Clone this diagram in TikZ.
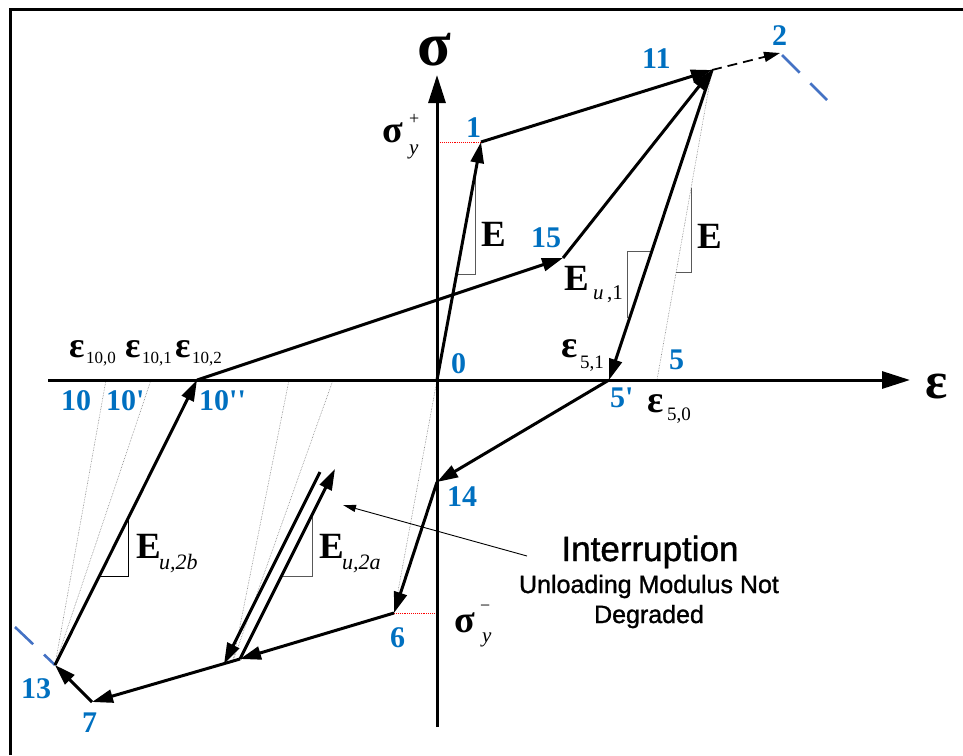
\documentclass[tikz,border=0pt]{standalone}
\usepackage{fontspec}
\setmainfont{Liberation Serif}[Ligatures=TeXOff]
\newfontfamily\sansf{Liberation Sans}
\newfontfamily\sansb{Liberation Sans}[FakeBold=1.2]
\usetikzlibrary{arrows.meta}
\definecolor{nblue}{RGB}{0,112,192}
\definecolor{dblue}{RGB}{68,114,196}
\newcommand\fs[1]{\fontsize{#1}{#1}\selectfont}
\begin{document}
\begin{tikzpicture}[x=1pt,y=-1pt,
 main/.style={line width=3pt,-{Triangle[length=21pt,width=13pt]}},
 axis/.style={line width=3pt,-{Triangle[length=28pt,width=17pt]}},
 guide/.style={gray,densely dotted,line width=0.6pt},
 tri/.style={black!65,line width=1pt},
 ref/.style={red,densely dotted,line width=0.9pt},
 bdash/.style={dblue,line width=2.6pt,dash pattern=on 25pt off 15pt},
 num/.style={text=nblue,font=\fs{30}\bfseries,inner sep=0pt,anchor=base west},
 lbl/.style={inner sep=0pt,anchor=base west},
]
\useasboundingbox (0,0) rectangle (963,755);
\draw[line width=3pt] (10,755) -- (10,9) -- (963,9);

% points
\coordinate (O) at (437,380);
\coordinate (P1) at (481,142);
\coordinate (P11) at (712,70);
\coordinate (P2) at (780,53);
\coordinate (P15) at (563,258);
\coordinate (P5p) at (609,380);
\coordinate (P5) at (657,380);
\coordinate (P14) at (437,482);
\coordinate (P6) at (394,613);
\coordinate (A) at (240,659);
\coordinate (B) at (224,664);
\coordinate (U) at (335,469);
\coordinate (D) at (320,472);
\coordinate (Pa) at (233,661);
\coordinate (P7) at (92,702);
\coordinate (P13) at (55,665);
\coordinate (P10) at (106,380);
\coordinate (P10p) at (151,380);
\coordinate (P10pp) at (197,380);
\coordinate (Pq) at (289,380);
\coordinate (Pr) at (333,380);
\coordinate (sb) at (437,727);
\coordinate (st) at (437,75);
\coordinate (el) at (48,380);
\coordinate (er) at (910,380);
\coordinate (ry1) at (437,142);
\coordinate (ry6) at (437,613);

% guides
\draw[guide] (P13) -- (P10);
\draw[guide] (P13) -- (P10p);
\draw[guide] (Pa) -- (Pq);
\draw[guide] (Pa) -- (Pr);
\draw[guide] (P6) -- (O);
\draw[guide] (P5) -- (P11);
\draw[ref] (P1) -- (ry1);
\draw[ref] (P6) -- (ry6);

% slope triangles
\draw[tri] (457,274) -- (475,274) -- (475,175);
\draw[tri] (676,272) -- (691,272) -- (691,188);
\draw[tri] (652,251) -- (627,251) -- (627,318);
\draw[tri,black] (99,576) -- (128,576) -- (128,518);
\draw[tri] (282,576) -- (312,576) -- (312,516);

% axes
\draw[axis] (sb) -- (st);
\draw[axis] (el) -- (er);

% path
\draw[main] (O) -- (P1);
\draw[main] (P1) -- (P11);
\draw[line width=1.8pt,dash pattern=on 10pt off 6pt,-{Triangle[length=16pt,width=10pt]}] (P11) -- (P2);
\draw[bdash] (782,55) -- (827,100);
\draw[main] (P11) -- (P5p);
\draw[main] (P5p) -- (P14);
\draw[main] (P14) -- (P6);
\draw[main] (P6) -- (A);
\draw[main] (A) -- (U);
\draw[main] (D) -- (B);
\draw[main] (A) -- (P7);
\draw[main] (P7) -- (P13);
\draw[bdash] (15,627) -- (55,665);
\draw[main] (P13) -- (P10pp);
\draw[main] (P10pp) -- (P15);
\draw[main] (P15) -- (P11);

% blue numbers
\node[num] (n1) at (466,137) {1};
\node[num] (n11) at (642,68) {11};
\node[num] (n2) at (772,45) {2};
\node[num] (n15) at (531,247) {15};
\node[num] (n0) at (451,373) {0};
\node[num] (n5) at (669,369) {5};
\node[num] (n5p) at (610,407) {5'};
\node[num] (n10) at (61,410) {10};
\node[num] (n10p) at (106,410) {10'};
\node[num] (n10pp) at (199,410) {10''};
\node[num] (n14) at (447,506) {14};
\node[num] (n6) at (390,647) {6};
\node[num] (n13) at (21,698) {13};
\node[num] (n7) at (82,732) {7};

% axis labels
\node[lbl] (sig) at (417,65) {\fs{62}\bfseries σ};
\node[lbl] (eps) at (925,398) {\fs{52}\bfseries ε};

% sigma_y
\node[lbl] (sy1) at (382,142) {\fs{38}\bfseries σ};
\node[lbl] (sy1p) at (409,124) {\fs{18}+};
\node[lbl] (sy1y) at (409,154) {\fs{21}\itshape y};
\node[lbl] (sy2) at (454,632) {\fs{38}\bfseries σ};
\node[lbl] (sy2m) at (480,611) {\fs{18}−};
\node[lbl] (sy2y) at (482,642) {\fs{21}\itshape y};

% E labels
\node[lbl] (E1) at (481,246) {\fs{37}\bfseries E};
\node[lbl] (E2) at (697,248) {\fs{37}\bfseries E};
\node[lbl] (Eu1) at (564,290) {\fs{37}\bfseries E};
\node[lbl] (Eu1s) at (593,299) {\fs{21}\itshape u\upshape\,,1};
\node[lbl] (Eu2b) at (136,558) {\fs{37}\bfseries E};
\node[lbl] (Eu2bs) at (159,569) {\fs{22}\itshape u,2b};
\node[lbl] (Eu2a) at (319,558) {\fs{37}\bfseries E};
\node[lbl] (Eu2as) at (342,569) {\fs{22}\itshape u,2a};

% epsilon labels
\node[lbl] (e100) at (69,357) {\fs{36}\bfseries ε};
\node[lbl] (e100s) at (86,363) {\fs{17}10,0};
\node[lbl] (e101) at (125,357) {\fs{36}\bfseries ε};
\node[lbl] (e101s) at (142,363) {\fs{17}10,1};
\node[lbl] (e102) at (175,357) {\fs{36}\bfseries ε};
\node[lbl] (e102s) at (192,363) {\fs{17}10,2};
\node[lbl] (e51) at (561,357) {\fs{38}\bfseries ε};
\node[lbl] (e51s) at (580,368) {\fs{19}5,1};
\node[lbl] (e50) at (647,412) {\fs{38}\bfseries ε};
\node[lbl] (e50s) at (667,420) {\fs{19}5,0};

% interruption note
\node[inner sep=0pt,anchor=base] (int) at (650,561) {\sansb\fs{35}Interruption};
\node[inner sep=0pt,anchor=base] (ul1) at (649,593) {\sansb\fs{25}Unloading Modulus Not};
\node[inner sep=0pt,anchor=base] (ul2) at (649,623) {\sansb\fs{25}Degraded};
\coordinate (ls) at (527,556);
\coordinate (le) at (343,505);
\draw[line width=0.9pt,-{Triangle[length=13pt,width=7pt]}] (ls) -- (le);
\end{tikzpicture}
\end{document}
